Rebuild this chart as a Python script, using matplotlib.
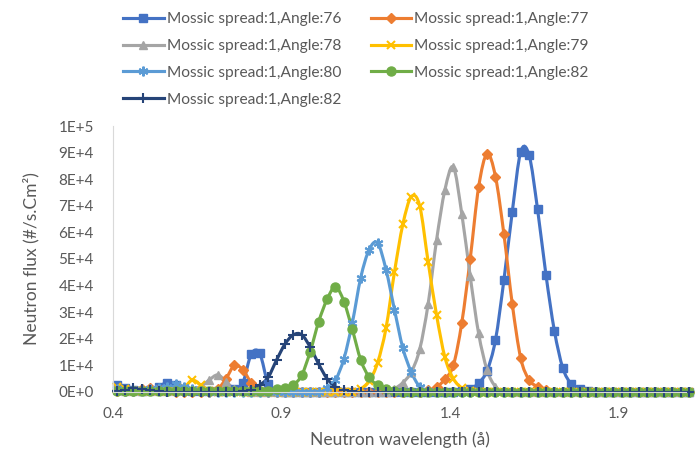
import numpy as np
import matplotlib
matplotlib.use('Agg')
import matplotlib.pyplot as plt
from matplotlib.lines import Line2D
from matplotlib.path import Path
from matplotlib.patches import PathPatch
from matplotlib.ticker import FuncFormatter, MultipleLocator

plt.rcParams['font.family'] = ['Lato', 'DejaVu Sans']

# wavelength grid (angstrom)
wavelength = [0.41, 0.435, 0.46, 0.485, 0.51, 0.535, 0.56, 0.585, 0.61, 0.635,
              0.66, 0.685, 0.71, 0.735, 0.76, 0.785, 0.81, 0.835, 0.86, 0.885,
              0.91, 0.935, 0.96, 0.985, 1.01, 1.035, 1.06, 1.085, 1.11, 1.135,
              1.16, 1.185, 1.21, 1.235, 1.26, 1.285, 1.31, 1.335, 1.36, 1.385,
              1.41, 1.435, 1.46, 1.485, 1.51, 1.535, 1.56, 1.585, 1.61, 1.635,
              1.66, 1.685, 1.71, 1.735, 1.76, 1.785, 1.81, 1.835, 1.86, 1.885,
              1.91, 1.935, 1.96, 1.985, 2.01, 2.035, 2.06, 2.085, 2.11]
xticks = [0.4, 0.9, 1.4, 1.9]

# neutron flux, in thousands of #/s.cm2
flux_76 = [2.5, 1.5, 0.8, 0.5, 0.8, 2, 3.5, 2.5, 1, 0.5,
           0.3, 0.3, 0.5, 0.5, 1, 3.5, 14.3, 14.5, 3, 0.5,
           0, 0, 0, 0, 0, 0, 0, 0, 0, 0,
           0, 0, 0, 0, 0, 0, 0, 0, 0, 0,
           0, 0.4, 1.2, 3.3, 8, 19.5, 42, 67.8, 90.3, 89,
           68.7, 44, 23, 9, 3, 1, 0.3, 0, 0, 0,
           0, 0, 0, 0, 0, 0, 0, 0, 0]
flux_77 = [0.5, 0.3, 0.5, 1, 1.5, 1, 0.3, 0, 0, 0,
           0, 0, 1, 5, 10, 8.3, 3.4, 0.5, 0, 0,
           0, 0, 0, 0, 0, 0, 0, 0, 0, 0,
           0, 0, 0, 0, 0, 0, 0, 0.6, 1.8, 4.8,
           10, 26, 50, 77, 89.5, 81, 59.4, 33, 12.7, 4.5,
           2, 0.6, 0, 0, 0, 0, 0, 0, 0, 0,
           0, 0, 0, 0, 0, 0, 0, 0, 0]
flux_78 = [0.8, 0.5, 0.3, 0.3, 0.3, 0.3, 0.5, 0.5, 0.8, 1.2,
           2, 4.5, 6.4, 3.9, 1, 0.3, 0, 0, 0, 0,
           0, 0, 0, 0, 0, 0, 0, 0, 0, 0,
           0, 0, 0, 1.2, 3.5, 7.5, 16, 33, 57, 76,
           84.5, 67, 43.5, 22, 8.3, 2, 0.5, 0, 0, 0,
           0, 0, 0, 0, 0, 0, 0, 0, 0, 0,
           0, 0, 0, 0, 0, 0, 0, 0, 0]
flux_79 = [2, 1, 0.5, 0.5, 0.3, 0.3, 0.3, 0.3, 1.5, 4.5,
           2.5, 0.5, 0, 0, 0, 0, 0, 0, 0, 0,
           0, 0, 0, 0, 0, 0, 0, 0, 0, 1.2,
           4, 11, 24, 45, 63, 73.4, 70, 49, 29, 13,
           5, 1.5, 0.4, 0, 0, 0, 0, 0, 0, 0,
           0, 0, 0, 0, 0, 0, 0, 0, 0, 0,
           0, 0, 0, 0, 0, 0, 0, 0, 0]
flux_80 = [1, 0.5, 0.5, 0.8, 1.2, 1.5, 2, 3, 2, 1,
           0.5, 0, 0, 0, 0, 0, 0, 0, 0, 0,
           0, 0, 0, 0, 0, 1.5, 4.5, 12.5, 26, 43,
           53.5, 56, 46, 31, 16.5, 7.5, 2, 0.5, 0, 0,
           0, 0, 0, 0, 0, 0, 0, 0, 0, 0,
           0, 0, 0, 0, 0, 0, 0, 0, 0, 0,
           0, 0, 0, 0, 0, 0, 0, 0, 0]
flux_82a = [0.5, 0.5, 0.3, 0.3, 0.3, 0.3, 0.3, 0.3, 0.3, 0.3,
            0.3, 0.3, 0.3, 0.3, 0.3, 0.3, 0.3, 0.3, 0.5, 1,
            1.5, 2.6, 6.4, 15.2, 26.4, 34.8, 39.6, 34, 23.5, 12,
            5.5, 2.5, 1, 0.3, 0, 0, 0, 0, 0, 0,
            0, 0, 0, 0, 0, 0, 0, 0, 0, 0,
            0, 0, 0, 0, 0, 0, 0, 0, 0, 0,
            0, 0, 0, 0, 0, 0, 0, 0, 0]
flux_82b = [0.3, 0.9, 1.4, 1.2, 0.6, 0.2, 0, 0, 0, 0,
            0, 0, 0, 0, 0, 0.2, 0.9, 2.6, 5.5, 12,
            18, 21.5, 21.5, 16.8, 10.5, 5, 2, 0.7, 0.2, 0,
            0, 0, 0, 0, 0, 0, 0, 0, 0, 0,
            0, 0, 0, 0, 0, 0, 0, 0, 0, 0,
            0, 0, 0, 0, 0, 0, 0, 0, 0, 0,
            0, 0, 0, 0, 0, 0, 0, 0, 0]

labels = ['Mossic spread:1,Angle:76', 'Mossic spread:1,Angle:77',
          'Mossic spread:1,Angle:78', 'Mossic spread:1,Angle:79',
          'Mossic spread:1,Angle:80', 'Mossic spread:1,Angle:82',
          'Mossic spread:1,Angle:82']
series = [flux_76, flux_77, flux_78, flux_79, flux_80, flux_82a, flux_82b]
colors = ['#4472C4', '#ED7D31', '#A5A5A5', '#FFC000', '#5B9BD5', '#70AD47', '#264478']
markers = ['s', 'D', '^', 'x', (6, 2, 0), 'o', '+']
msizes = [6, 5, 6, 6, 7, 6.5, 7]


def smooth_path(x, y):
    # excel-like smoothed line: cubic bezier through every point
    pts = np.column_stack([x, y])
    ext = np.vstack([pts[0], pts, pts[-1]])
    verts = [pts[0]]
    codes = [Path.MOVETO]
    for i in range(len(pts) - 1):
        p0, p1, p2, p3 = ext[i], ext[i + 1], ext[i + 2], ext[i + 3]
        verts += [p1 + (p2 - p0) / 6, p2 - (p3 - p1) / 6, p2]
        codes += [Path.CURVE4] * 3
    return Path(verts, codes)


fig = plt.figure(figsize=(6.99, 4.5), dpi=100)
ax = fig.add_axes([0.162, 0.129, 0.819, 0.591])

x = np.array(wavelength)
handles = []
for vals, lab, c, m, ms in zip(series, labels, colors, markers, msizes):
    y = np.array(vals) * 1e3
    ax.add_patch(PathPatch(smooth_path(x, y), facecolor='none', edgecolor=c, lw=2.25))
    mew = 1.5 if m in ('x', '+', (6, 2, 0)) else 1
    ax.plot(x, y, linestyle='none', marker=m, ms=ms, color=c, mec=c, mew=mew, clip_on=False)
    handles.append(Line2D([], [], color=c, lw=2.25, marker=m, ms=ms, mew=mew))

ax.set_xlim(0.4, 2.1)
ax.set_ylim(0, 1e5)
ax.set_xticks(xticks)
ax.yaxis.set_major_locator(MultipleLocator(1e4))


def sci(v, pos):
    if v == 0:
        return '0E+0'
    e = int(np.floor(np.log10(abs(v)) + 1e-9))
    return '%dE+%d' % (round(v / 10 ** e), e)


ax.yaxis.set_major_formatter(FuncFormatter(sci))
ax.xaxis.set_major_formatter(FuncFormatter(lambda v, p: '%.1f' % v))
ax.tick_params(length=0, labelsize=11, labelcolor='#595959')
ax.tick_params(axis='x', pad=11)
ax.tick_params(axis='y', pad=14)
for s in ['top', 'right']:
    ax.spines[s].set_visible(False)
for s in ['left', 'bottom']:
    ax.spines[s].set_color('#D9D9D9')

ax.set_xlabel('Neutron wavelength (å)', fontsize=12.5, color='#595959', labelpad=7)
ax.set_ylabel('Neutron flux (#/s.Cm²)', fontsize=12.5, color='#595959', labelpad=14)

# legend is row-major in the original: reorder for matplotlib's column fill
order = [0, 2, 4, 6, 1, 3, 5]
fig.legend([handles[i] for i in order], [labels[i] for i in order],
           loc='upper left', bbox_to_anchor=(0.165, 0.99), ncol=2,
           frameon=False, fontsize=11.2, labelcolor='#595959',
           handlelength=2.6, handletextpad=0.2, columnspacing=1.9,
           labelspacing=0.82, borderpad=0)

fig.savefig('out.png', dpi=100)
